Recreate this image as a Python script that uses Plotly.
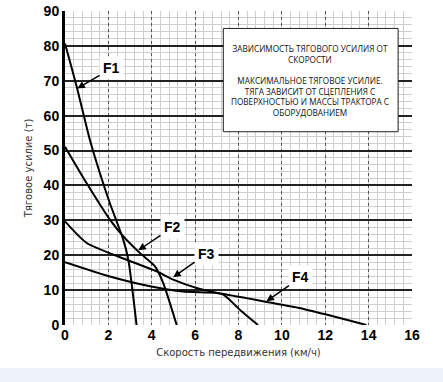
import plotly.graph_objects as go

# Data
f1_x = [0, 0.54, 1.15, 1.61, 2.07, 2.69, 2.92, 3.3]
f1_y = [80.7, 68.3, 53, 43.5, 34.9, 24.4, 18.7, 0]
f2_x = [0, 1.0, 2.07, 2.69, 3.46, 4.15, 4.53, 5.15]
f2_y = [51.1, 40.6, 30.2, 25.4, 20.6, 16.8, 12, 0]
f3_x = [0, 1.0, 2.84, 4.22, 4.99, 6.22, 7.3, 8.06, 8.9]
f3_y = [29.7, 23.5, 18.7, 15.4, 13, 10.3, 8.7, 4.4, 0]
f4_x = [0, 2.07, 3.92, 5.45, 6.99, 8.37, 9.3, 10.8, 12.05, 13.9]
f4_y = [18.0, 13.9, 11.1, 9.6, 9.2, 7.7, 6.6, 4.9, 3.0, 0]

labels = ["F1", "F2", "F3", "F4"]
label_x = [2.15, 4.96, 6.53, 10.88]
label_y = [73.6, 28.0, 20.4, 13.7]
tip_x = [0.57, 3.38, 4.99, 9.29]
tip_y = [67.8, 21.4, 13.7, 6.8]

x_ticks = [0, 2, 4, 6, 8, 10, 12, 14, 16]
y_ticks = [0, 10, 20, 30, 40, 50, 60, 70, 80, 90]

box_text = ("ЗАВИСИМОСТЬ ТЯГОВОГО УСИЛИЯ ОТ<br>СКОРОСТИ<br><br>"
            "МАКСИМАЛЬНОЕ ТЯГОВОЕ УСИЛИЕ.<br>ТЯГА ЗАВИСИТ ОТ СЦЕПЛЕНИЯ С<br>"
            "ПОВЕРХНОСТЬЮ И МАССЫ ТРАКТОРА С<br>ОБОРУДОВАНИЕМ")

fig = go.Figure()
for xs, ys in [(f1_x, f1_y), (f2_x, f2_y), (f3_x, f3_y), (f4_x, f4_y)]:
    fig.add_trace(go.Scatter(x=xs, y=ys, mode="lines",
                             line=dict(color="black", width=2, shape="spline", smoothing=0.6),
                             showlegend=False, hoverinfo="skip"))

for t, lx, ly, tx, ty in zip(labels, label_x, label_y, tip_x, tip_y):
    fig.add_annotation(x=tx, y=ty, ax=lx, ay=ly, axref="x", ayref="y",
                       xref="x", yref="y", text="<b>%s</b>" % t,
                       showarrow=True, arrowhead=2, arrowsize=1, arrowwidth=1.5,
                       arrowcolor="black", bgcolor="white", borderpad=3,
                       font=dict(family="Liberation Sans", size=14, color="black"))

fig.add_shape(type="rect", x0=7.3, x1=15.36, y0=55.4, y1=85, xref="x", yref="y",
              fillcolor="white", line=dict(color="#222", width=1), layer="above")
fig.add_annotation(x=11.3, y=70.2, xref="x", yref="y", text=box_text, showarrow=False,
                   font=dict(family="Open Sans", size=8.2, color="#111"), align="center")

# bottom band
fig.add_shape(type="rect", xref="paper", yref="paper", x0=-0.25, x1=1.15,
              y0=-0.2, y1=-0.137, fillcolor="#eef2f9", line=dict(width=0), layer="below")

fig.update_layout(
    width=443, height=382, margin=dict(l=65, r=31, t=11, b=57),
    paper_bgcolor="white", plot_bgcolor="white",
    xaxis=dict(range=[0, 16], tickvals=x_ticks, showgrid=True, automargin=False,
               gridcolor="#555", griddash="dot", gridwidth=1,
               minor=dict(dtick=0.4, showgrid=True, gridcolor="#cfcfcf", gridwidth=1,
                          griddash="solid"),
               showline=False, zeroline=False,
               tickfont=dict(family="Liberation Sans", size=14, color="black", weight="bold"),
               title=dict(text="Скорость передвижения (км/ч)", standoff=6,
                          font=dict(family="DejaVu Sans", size=10, color="#333"))),
    yaxis=dict(range=[0, 90], tickvals=y_ticks, showgrid=True, automargin=False,
               gridcolor="#222", gridwidth=2,
               minor=dict(dtick=2, showgrid=True, gridcolor="#cfcfcf", gridwidth=1,
                          griddash="solid"),
               showline=True, linecolor="black", linewidth=3, zeroline=False,
               tickfont=dict(family="Liberation Sans", size=14, color="black", weight="bold"),
               title=dict(text="Тяговое усилие (т)", standoff=10,
                          font=dict(family="DejaVu Sans", size=10, color="#333"))),
)
fig.write_html("out.html", config={"displayModeBar": False},
               post_script="document.body.style.margin='0px';")
